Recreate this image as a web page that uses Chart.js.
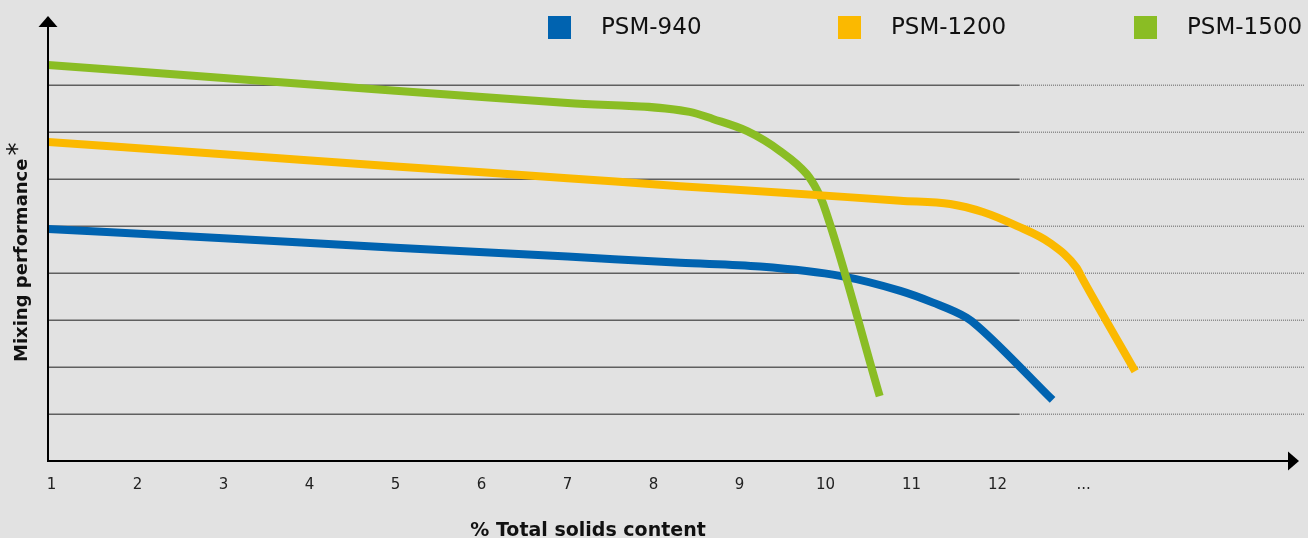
<!DOCTYPE html>
<html>
<head>
<meta charset="utf-8">
<style>
  html, body { margin: 0; padding: 0; background: #e2e2e2; }
  .chart-container { position: relative; width: 1308px; height: 538px; }
</style>
</head>
<body>
<div class="chart-container">
    <canvas id="mixingChart"></canvas>
</div>

<script src="https://cdn.jsdelivr.net/npm/chart.js"></script>
<script>
// x axis ticks
const tickValues = [1, 2, 3, 4, 5, 6, 7, 8, 9, 10, 11, 12, 13];
const tickLabels = ['1', '2', '3', '4', '5', '6', '7', '8', '9', '10', '11', '12', '...'];
const gridValues = [1, 2, 3, 4, 5, 6, 7, 8];

// series
const psm940X = [0.96, 3, 5, 7, 8.31, 9.24, 10.17, 10.87, 11.25, 11.64, 11.77, 12.64];
const psm940Y = [4.94, 4.74, 4.54, 4.35, 4.22, 4.14, 3.94, 3.62, 3.37, 3.05, 2.87, 1.30];

const psm1200X = [0.96, 3, 5, 7, 8.31, 9.5, 10.87, 11.45, 11.83, 12.23, 12.61, 12.92, 12.99, 13.60];
const psm1200Y = [6.79, 6.53, 6.27, 6.02, 5.85, 5.71, 5.54, 5.47, 5.30, 5.00, 4.64, 4.11, 3.87, 1.91];

const psm1500X = [0.96, 3, 5, 7, 8.42, 8.69, 9.09, 9.47, 9.78, 9.90, 9.97, 10.63];
const psm1500Y = [8.43, 8.15, 7.88, 7.62, 7.43, 7.28, 7.02, 6.60, 6.11, 5.77, 5.49, 1.38];

const xTitle = '% Total solids content';
const yTitle = 'Mixing performance';

const colors = {
    blue: '#0063b0',
    yellow: '#fbb900',
    green: '#8abd24',
    bg: '#e2e2e2',
    grid: '#5f5f5f',
    text: '#111111'
};

function toPoints(xs, ys) {
    return xs.map((x, i) => ({ x: x, y: ys[i] }));
}

// background, gridlines, axes with arrows, legend and axis titles
const decor = {
    id: 'decor',
    beforeDraw(chart) {
        const ctx = chart.ctx;
        ctx.save();
        ctx.fillStyle = colors.bg;
        ctx.fillRect(0, 0, chart.width, chart.height);
        ctx.restore();
    },
    beforeDatasetsDraw(chart) {
        const ctx = chart.ctx;
        const xs = chart.scales.x, ys = chart.scales.y;
        const left = chart.chartArea.left;
        const solidEnd = xs.getPixelForValue(12.25);
        const right = chart.chartArea.right + 4;
        ctx.save();
        ctx.lineWidth = 1.5;
        gridValues.forEach(v => {
            const y = Math.round(ys.getPixelForValue(v)) + 0.25;
            ctx.strokeStyle = colors.grid;
            ctx.setLineDash([]);
            ctx.beginPath();
            ctx.moveTo(left, y);
            ctx.lineTo(solidEnd, y);
            ctx.stroke();
            ctx.strokeStyle = '#8a8a8a';
            ctx.setLineDash([1, 1]);
            ctx.beginPath();
            ctx.moveTo(solidEnd, y);
            ctx.lineTo(right, y);
            ctx.stroke();
        });
        ctx.restore();
    },
    afterDatasetsDraw(chart) {
        const ctx = chart.ctx;
        const a = chart.chartArea;
        const x0 = a.left, y0 = a.bottom;
        ctx.save();
        ctx.strokeStyle = '#000';
        ctx.fillStyle = '#000';
        ctx.lineWidth = 2;
        ctx.beginPath();
        ctx.moveTo(x0, y0);
        ctx.lineTo(x0, a.top + 8);
        ctx.moveTo(x0 - 1, y0);
        ctx.lineTo(a.right - 12, y0);
        ctx.stroke();
        // up arrow
        ctx.beginPath();
        ctx.moveTo(x0, a.top - 1);
        ctx.lineTo(x0 - 9.5, a.top + 10);
        ctx.lineTo(x0 + 9.5, a.top + 10);
        ctx.closePath();
        ctx.fill();
        // right arrow
        ctx.beginPath();
        ctx.moveTo(a.right - 1, y0);
        ctx.lineTo(a.right - 12, y0 - 9.5);
        ctx.lineTo(a.right - 12, y0 + 9.5);
        ctx.closePath();
        ctx.fill();
        ctx.restore();
    },
    afterDraw(chart) {
        const ctx = chart.ctx;
        ctx.save();
        // legend
        const boxX = [548, 838, 1134];
        ctx.font = '23px "DejaVu Sans"';
        ctx.textBaseline = 'middle';
        ctx.textAlign = 'left';
        chart.data.datasets.forEach((ds, i) => {
            ctx.fillStyle = ds.borderColor;
            ctx.fillRect(boxX[i], 16, 23, 23);
            ctx.fillStyle = colors.text;
            ctx.fillText(ds.label, boxX[i] + 53, 28);
        });
        // x title
        ctx.font = 'bold 19px "DejaVu Sans"';
        ctx.textAlign = 'center';
        ctx.textBaseline = 'alphabetic';
        ctx.fillText(xTitle, 588, 536);
        // y title with raised asterisk
        ctx.textAlign = 'left';
        ctx.translate(27, 362);
        ctx.rotate(-Math.PI / 2);
        ctx.font = 'bold 18px "DejaVu Sans"';
        ctx.fillText(yTitle, 0, 0);
        const w = ctx.measureText(yTitle).width;
        ctx.font = '26px "DejaVu Sans"';
        ctx.fillText('*', w + 3, -1);
        ctx.restore();
    }
};

new Chart(document.getElementById('mixingChart'), {
    type: 'line',
    data: {
        datasets: [
            {
                label: 'PSM-940',
                data: toPoints(psm940X, psm940Y),
                borderColor: colors.blue,
                order: 3
            },
            {
                label: 'PSM-1200',
                data: toPoints(psm1200X, psm1200Y),
                borderColor: colors.yellow,
                order: 1
            },
            {
                label: 'PSM-1500',
                data: toPoints(psm1500X, psm1500Y),
                borderColor: colors.green,
                order: 2
            }
        ]
    },
    options: {
        responsive: true,
        maintainAspectRatio: false,
        animation: false,
        layout: { padding: { left: 48, right: 8, top: 17, bottom: 29 } },
        elements: {
            line: { borderWidth: 8, cubicInterpolationMode: 'monotone', borderCapStyle: 'butt', borderJoinStyle: 'round', fill: false },
            point: { radius: 0, hoverRadius: 0 }
        },
        scales: {
            x: {
                type: 'linear',
                min: 0.9593,
                max: 15.517,
                afterBuildTicks: axis => { axis.ticks = tickValues.map(v => ({ value: v })); },
                grid: { display: false, drawTicks: false },
                border: { display: false },
                ticks: {
                    autoSkip: false,
                    maxRotation: 0,
                    padding: 15,
                    color: '#222',
                    font: { family: '"DejaVu Sans"', size: 15 },
                    callback: v => tickLabels[tickValues.indexOf(v)]
                },
                title: { display: false }
            },
            y: {
                type: 'linear',
                min: 0,
                max: 9.45,
                display: false
            }
        },
        plugins: {
            legend: { display: false },
            tooltip: { enabled: false }
        }
    },
    plugins: [decor]
});
</script>
</body>
</html>
